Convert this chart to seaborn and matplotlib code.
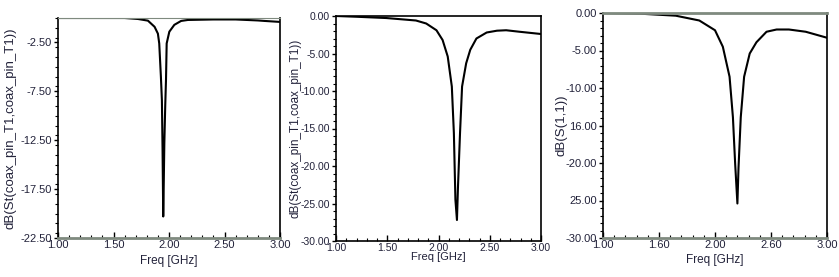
import matplotlib
matplotlib.use("Agg")
import matplotlib.pyplot as plt
import seaborn as sns
import pandas as pd
from matplotlib.ticker import MultipleLocator, FixedLocator, FixedFormatter

# ---- data ----
freq1 = [1.00, 1.30, 1.60, 1.72, 1.81, 1.87, 1.90, 1.912, 1.927, 1.936, 1.942, 1.948,
         1.952, 1.958, 1.966, 1.973, 1.979, 2.003, 2.048, 2.109, 2.17, 2.40, 2.60, 2.80, 2.86, 3.00]
db1 = [0.0, 0.0, 0.0, -0.1, -0.27, -0.9, -1.6, -2.6, -6.0, -8.4, -13.5, -20.3,
       -17.5, -12.8, -9.0, -6.3, -2.6, -1.4, -0.7, -0.3, -0.2, -0.15, -0.15, -0.25, -0.3, -0.4]

freq2 = [1.00, 1.20, 1.49, 1.78, 1.88, 1.98, 2.04, 2.09, 2.13, 2.15, 2.165, 2.18, 2.19,
         2.21, 2.23, 2.27, 2.31, 2.37, 2.47, 2.57, 2.66, 2.79, 3.00]
db2 = [0.0, -0.1, -0.27, -0.6, -1.0, -1.9, -3.2, -5.4, -9.4, -15.6, -24.5, -27.2, -22.8,
       -15.6, -9.4, -6.3, -4.5, -3.0, -2.2, -1.96, -1.9, -2.1, -2.4]

freq3 = [1.00, 1.33, 1.65, 1.86, 2.00, 2.07, 2.13, 2.16, 2.18, 2.20, 2.21, 2.23, 2.26,
         2.31, 2.37, 2.46, 2.55, 2.66, 2.81, 3.00]
db3 = [0.0, -0.09, -0.36, -1.0, -2.3, -4.5, -8.5, -13.9, -20.1, -25.4, -20.6, -13.9, -8.5,
       -5.4, -3.9, -2.5, -2.2, -2.2, -2.5, -3.3]

ylabel1 = "dB(St(coax_pin_T1,coax_pin_T1))"
ylabel2 = "dB(St(coax_pin_T1,coax_pin_T1))"
ylabel3 = "dB(S(1,1))"
xlabel = "Freq [GHz]"

xticks = [1.0, 1.5, 2.0, 2.5, 3.0]
xticklabels12 = ["1.00", "1.50", "2.00", "2.50", "3.00"]
xticklabels3 = ["1.00", "1.60", "2.00", "2.60", "3.00"]
yticks1 = [-22.5, -17.5, -12.5, -7.5, -2.5]
yticklabels1 = ["-22.50", "-17.50", "-12.50", "-7.50", "-2.50"]
yticks23 = [-30, -25, -20, -15, -10, -5, 0]
yticklabels2 = ["-30.00", "-25.00", "-20.00", "-15.00", "-10.00", "-5.00", "0.00"]
yticklabels3 = ["-30.00", "25.00", "-20.00", "16.00", "-10.00", "-5.00", "0.00"]

sns.set_theme(style="white")
plt.rcParams["font.family"] = ["Liberation Sans", "DejaVu Sans"]

W, H = 839, 277
fig = plt.figure(figsize=(W / 100, H / 100), dpi=100)

def rect(l, r, t, b):
    return [l / W, 1 - b / H, (r - l) / W, (b - t) / H]

tick_color = "#22223a"
gray = "#7f8a7f"

panels = [
    dict(r=rect(58, 280, 18, 238), f=freq1, d=db1, ylim=(-22.5, 0), yt=yticks1, ytl=yticklabels1,
         xtl=xticklabels12, ylab=ylabel1, ylx=-0.215, yfs=9.5, xly=-0.105, fs=8,
         spines=dict(top=(gray, 0.8), bottom=(gray, 2.0), left=("black", 1.2), right=("black", 1.2))),
    dict(r=rect(336, 541, 16, 241), f=freq2, d=db2, ylim=(-30, 0), yt=yticks23, ytl=yticklabels2,
         xtl=xticklabels12, ylab=ylabel2, ylx=-0.2, yfs=8.5, xly=-0.071, fs=7.5,
         spines=dict(top=("black", 1.2), bottom=("black", 1.2), left=("black", 1.2), right=("black", 1.2))),
    dict(r=rect(603, 827, 13, 238), f=freq3, d=db3, ylim=(-30, 0), yt=yticks23, ytl=yticklabels3,
         xtl=xticklabels3, ylab=ylabel3, ylx=-0.185, yfs=9.5, xly=-0.098, fs=8,
         spines=dict(top=(gray, 2.0), bottom=(gray, 2.0), left=("black", 1.2), right=("black", 1.2))),
]

for p in panels:
    ax = fig.add_axes(p["r"])
    df = pd.DataFrame({"Freq": p["f"], "dB": p["d"]})
    sns.lineplot(data=df, x="Freq", y="dB", ax=ax, color="black", linewidth=1.5,
                 sort=False, estimator=None, clip_on=True)
    ax.set_xlim(1.0, 3.0)
    ax.set_ylim(*p["ylim"])
    ax.xaxis.set_major_locator(FixedLocator(xticks))
    ax.xaxis.set_major_formatter(FixedFormatter(p["xtl"]))
    ax.xaxis.set_minor_locator(MultipleLocator(0.1))
    ax.yaxis.set_major_locator(FixedLocator(p["yt"]))
    ax.yaxis.set_major_formatter(FixedFormatter(p["ytl"]))
    ax.yaxis.set_minor_locator(MultipleLocator(1.0))
    ax.tick_params(axis="x", which="major", direction="in", length=4, width=1, color="black",
                   labelsize=p["fs"], labelcolor=tick_color, pad=1.5)
    ax.tick_params(axis="x", which="minor", direction="in", length=2.5, width=0.8, color="black")
    ax.tick_params(axis="y", which="major", direction="out", length=3, width=1, color="black",
                   labelsize=p["fs"], labelcolor=tick_color, pad=1.5, left=True)
    ax.tick_params(axis="y", which="minor", direction="out", length=2, width=0.8, color="black", left=True)
    ax.tick_params(axis="x", which="both", bottom=True)
    for side, (c, lw) in p["spines"].items():
        ax.spines[side].set_visible(True)
        ax.spines[side].set_color(c)
        ax.spines[side].set_linewidth(lw)
    ax.set_xlabel(xlabel, fontsize=p["fs"] + 0.5, color=tick_color, va="center")
    ax.xaxis.set_label_coords(0.5, p["xly"])
    ax.set_ylabel(p["ylab"], fontsize=p["yfs"], color=tick_color, va="center")
    ax.yaxis.set_label_coords(p["ylx"], 0.5)
    ax.set_facecolor("white")
    ax.grid(False)

fig.savefig("out.png", dpi=100, facecolor="white")
